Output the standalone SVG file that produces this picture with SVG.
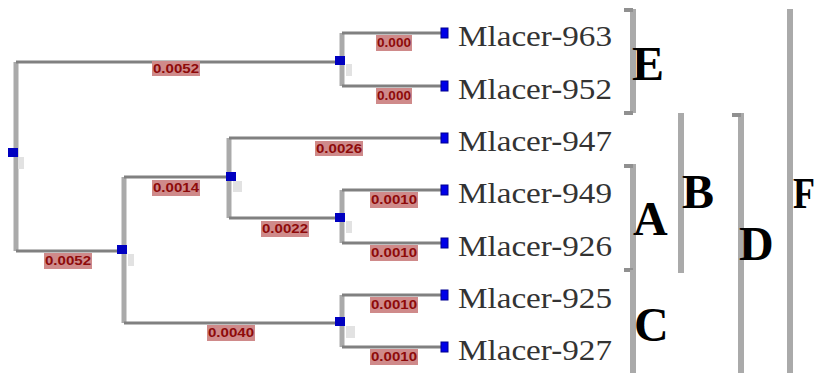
<svg xmlns="http://www.w3.org/2000/svg" width="820" height="373" viewBox="0 0 820 373">
<defs>
<style>
.h{stroke:#808080;stroke-width:3;fill:none}
.v{stroke:#aaaaaa;stroke-width:5;fill:none}
.node{fill:#0000c0}
.leafnode{fill:#0000e8;stroke:#000090;stroke-width:1}
.ghost{fill:#e2e2e2}
.bl{fill:#cf8a8a}
.bt{font-family:"Liberation Sans",Arial,sans-serif;font-size:13px;font-weight:bold;fill:#8e0a0a}
.leaf{font-family:"Liberation Serif","Times New Roman",serif;font-size:30px;fill:#333}
.br{stroke:#aaaaaa;stroke-width:6;fill:none}
.tick{stroke:#909090;stroke-width:4;fill:none}
.big{font-family:"Liberation Serif","Times New Roman",serif;font-size:48px;font-weight:bold;fill:#000}
</style>
</defs>
<rect width="820" height="373" fill="#ffffff"/>
<g id="connectors">
<path class="v" d="M16 62V251"/>
<path class="h" d="M16 62H342"/>
<path class="v" d="M342 33V86"/>
<path class="h" d="M342 33H442M342 86H442"/>
<path class="h" d="M16 251H124"/>
<path class="v" d="M124 177V323"/>
<path class="h" d="M124 177H229"/>
<path class="v" d="M229 138V218"/>
<path class="h" d="M229 138H442"/>
<path class="h" d="M229 218H342"/>
<path class="v" d="M342 190V243"/>
<path class="h" d="M342 190H442M342 243H442"/>
<path class="h" d="M124 323H342"/>
<path class="v" d="M342 295V347"/>
<path class="h" d="M342 295H442M342 347H442"/>
<g id="branch-labels">
<rect class="bl" x="152" y="61" width="48" height="15"/><text class="bt" x="153" y="73" textLength="46" lengthAdjust="spacingAndGlyphs">0.0052</text>
<rect class="bl" x="376" y="35" width="36" height="16"/><text class="bt" x="377" y="47" textLength="34" lengthAdjust="spacingAndGlyphs">0.000</text>
<rect class="bl" x="376" y="88" width="36" height="16"/><text class="bt" x="377" y="100" textLength="34" lengthAdjust="spacingAndGlyphs">0.000</text>
<rect class="bl" x="315" y="141" width="48" height="15"/><text class="bt" x="316" y="153" textLength="46" lengthAdjust="spacingAndGlyphs">0.0026</text>
<rect class="bl" x="152" y="180" width="48" height="16"/><text class="bt" x="153" y="192" textLength="46" lengthAdjust="spacingAndGlyphs">0.0014</text>
<rect class="bl" x="261" y="221" width="48" height="16"/><text class="bt" x="262" y="233" textLength="46" lengthAdjust="spacingAndGlyphs">0.0022</text>
<rect class="bl" x="370" y="192" width="48" height="16"/><text class="bt" x="371" y="204" textLength="46" lengthAdjust="spacingAndGlyphs">0.0010</text>
<rect class="bl" x="370" y="245" width="48" height="16"/><text class="bt" x="371" y="257" textLength="46" lengthAdjust="spacingAndGlyphs">0.0010</text>
<rect class="bl" x="44" y="253" width="48" height="16"/><text class="bt" x="45" y="265" textLength="46" lengthAdjust="spacingAndGlyphs">0.0052</text>
<rect class="bl" x="207" y="325" width="48" height="16"/><text class="bt" x="208" y="337" textLength="46" lengthAdjust="spacingAndGlyphs">0.0040</text>
<rect class="bl" x="370" y="297" width="48" height="16"/><text class="bt" x="371" y="309" textLength="46" lengthAdjust="spacingAndGlyphs">0.0010</text>
<rect class="bl" x="370" y="349" width="48" height="16"/><text class="bt" x="371" y="361" textLength="46" lengthAdjust="spacingAndGlyphs">0.0010</text>
</g>
</g>
<g id="node-root"><rect class="ghost" x="18" y="157" width="6" height="12"/><rect class="node" x="8" y="148" width="10" height="9"/></g>
<g id="node-E"><rect class="ghost" x="346" y="64" width="6" height="12"/><rect class="node" x="335" y="56" width="10" height="9"/></g>
<g id="node-AB"><rect class="ghost" x="233" y="181" width="9" height="11"/><rect class="node" x="226" y="172" width="10" height="9"/></g>
<g id="node-A"><rect class="ghost" x="346" y="221" width="6" height="12"/><rect class="node" x="335" y="213" width="10" height="9"/></g>
<g id="node-D"><rect class="ghost" x="128" y="254" width="6" height="12"/><rect class="node" x="117" y="245" width="10" height="9"/></g>
<g id="node-C"><rect class="ghost" x="346" y="326" width="9" height="12"/><rect class="node" x="335" y="317" width="10" height="9"/></g>
<g id="leaf-963"><rect class="leafnode" x="441" y="28" width="7" height="10"/><text class="leaf" x="458" y="46" textLength="154" lengthAdjust="spacingAndGlyphs">Mlacer-963</text></g>
<g id="leaf-952"><rect class="leafnode" x="441" y="81" width="7" height="10"/><text class="leaf" x="458" y="99" textLength="154" lengthAdjust="spacingAndGlyphs">Mlacer-952</text></g>
<g id="leaf-947"><rect class="leafnode" x="441" y="133" width="7" height="10"/><text class="leaf" x="458" y="151" textLength="154" lengthAdjust="spacingAndGlyphs">Mlacer-947</text></g>
<g id="leaf-949"><rect class="leafnode" x="441" y="185" width="7" height="10"/><text class="leaf" x="458" y="203" textLength="154" lengthAdjust="spacingAndGlyphs">Mlacer-949</text></g>
<g id="leaf-926"><rect class="leafnode" x="441" y="238" width="7" height="10"/><text class="leaf" x="458" y="256" textLength="154" lengthAdjust="spacingAndGlyphs">Mlacer-926</text></g>
<g id="leaf-925"><rect class="leafnode" x="441" y="290" width="7" height="10"/><text class="leaf" x="458" y="308" textLength="154" lengthAdjust="spacingAndGlyphs">Mlacer-925</text></g>
<g id="leaf-927"><rect class="leafnode" x="441" y="342" width="7" height="10"/><text class="leaf" x="458" y="360" textLength="154" lengthAdjust="spacingAndGlyphs">Mlacer-927</text></g>
<g id="clade-E"><path class="br" d="M633 9V113"/><path class="tick" d="M624 10H633M624 113H633"/><text class="big" x="632" y="80">E</text></g>
<g id="clade-A"><path class="br" d="M633 164V270"/><path class="tick" d="M624 166H633M624 270H633"/><text class="big" x="633" y="235">A</text></g>
<g id="clade-C"><path class="br" d="M633 270V373"/><text class="big" x="634" y="341">C</text></g>
<g id="clade-B"><path class="br" d="M681 113V273"/><text class="big" x="682" y="208">B</text></g>
<g id="clade-D"><path class="br" d="M741 113V373"/><path class="tick" d="M732 115H741"/><text class="big" x="739" y="260">D</text></g>
<g id="clade-F"><path class="br" d="M790 9V373"/><text class="big" x="793" y="208" style="font-size:45px" textLength="22" lengthAdjust="spacingAndGlyphs">F</text></g>
</svg>
